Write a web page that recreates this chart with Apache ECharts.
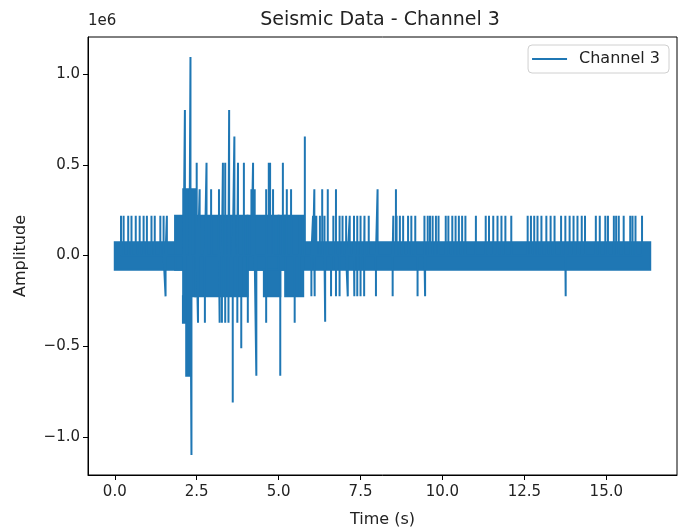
<!DOCTYPE html>
<html>
<head>
<meta charset="utf-8">
<script src="https://cdn.jsdelivr.net/npm/echarts@6/dist/echarts.min.js"></script>
<style>
  html, body { margin: 0; padding: 0; background: #fff; }
  #chart { width: 686px; height: 527px; }
</style>
</head>
<body>
<div id="chart"></div>
<script>
// tick labels
var xTicks = [0, 2.5, 5, 7.5, 10, 12.5, 15];
var yTicks = [-1000000, -500000, 0, 500000, 1000000];

// dense part of the trace, drawn as filled blocks: start, end, low, high
var bandStart = [0,      1.84,   2.09,    2.08,    2.18,    2.46,    4.05,   4.55,    5.00,    5.20];
var bandEnd   = [16.34,  2.09,   2.46,    2.18,    2.30,    4.05,    5.00,   5.05,    5.20,    5.75];
var bandLow   = [-78000, -78000, -225000, -370000, -663000, -225000, -78000, -225000, -78000,  -225000];
var bandHigh  = [73000,  219000, 365000,  -225000, -370000, 219000,  219000, -78000,  219000,  219000];

// small upward spikes (all reach the same level)
var combTimes = [0.19, 0.27, 0.41, 0.51, 0.64, 0.76, 0.88, 0.98, 1.12, 1.22, 1.39, 1.49, 1.59,
  5.64, 5.72, 6.05, 6.15, 6.26, 6.4, 6.67, 6.86, 6.95, 7.06, 7.17, 7.3, 7.4, 7.5, 7.62, 7.75,
  8.5, 8.6, 8.7, 8.8, 8.95, 9.05, 9.17, 9.45, 9.55, 9.62, 9.7, 9.8, 9.88,
  10.1, 10.18, 10.3, 10.4, 10.5, 10.6, 10.7, 11.02, 11.32, 11.42, 11.55, 11.68, 11.8, 11.92,
  12.1, 12.6, 12.7, 12.8, 12.9, 13.02, 13.17, 13.3, 13.42, 13.62, 13.75, 13.88, 14.0, 14.12,
  14.25, 14.35, 14.68, 14.8, 14.97, 15.05, 15.23, 15.3, 15.38, 15.53, 15.73, 15.8, 15.89, 16.09];
var combLevel = 219000;

// small downward spikes
var dipTimes = [1.55, 5.64, 6.0, 6.1, 6.6, 6.75, 6.86, 7.11, 7.31, 7.4, 7.5, 7.61, 7.97, 8.48, 9.24, 9.47, 13.76];
var dipLevel = -225000;

// large spikes of the main event
var burstTimes = [2.14, 2.31, 2.50, 2.59, 2.80, 2.94, 3.18, 3.30, 3.37, 3.49, 3.65, 3.76, 3.94,
  4.17, 4.22, 4.27, 4.62, 4.70, 4.74, 4.83, 5.13, 5.25, 5.38, 5.80, 6.09, 6.33, 6.50, 6.75, 8.02, 8.58,
  2.10, 2.15, 2.22, 2.28, 2.34, 2.54, 2.75, 3.20, 3.27, 3.37, 3.47, 3.60, 3.74, 3.86, 4.06,
  4.32, 4.62, 5.05, 5.49, 6.42];
var burstValues = [803000, 1095000, 511000, 365000, 511000, 365000, 365000, 511000, 511000, 803000, 657000, 511000, 511000,
  365000, 511000, 365000, 365000, 511000, 511000, 365000, 511000, 365000, 365000, 657000, 365000, 365000, 365000, 365000, 365000, 365000,
  -370000, -370000, -663000, -663000, -1100000, -370000, -370000, -370000, -370000, -370000, -370000, -810000, -370000, -511000, -370000,
  -663000, -370000, -663000, -370000, -365000];

var spikes = [];
combTimes.forEach(function (t) { spikes.push([t, combLevel]); });
dipTimes.forEach(function (t) { spikes.push([t, dipLevel]); });
for (var i = 0; i < burstTimes.length; i++) spikes.push([burstTimes[i], burstValues[i]]);
spikes.sort(function (a, b) { return a[0] - b[0]; });

// each spike goes out from the baseline and back
var trace = [];
spikes.forEach(function (s) {
  trace.push([s[0], 0], [s[0], s[1]], [s[0], 0]);
});

var bands = [];
for (var j = 0; j < bandStart.length; j++) bands.push([bandStart[j], bandEnd[j], bandLow[j], bandHigh[j]]);

var blue = '#1f77b4';
var font = 'DejaVu Sans';

var myChart = echarts.init(document.getElementById('chart'));
var option = {
  animation: false,
  backgroundColor: '#fff',
  title: {
    text: 'Seismic Data - Channel 3',
    left: 375,
    textAlign: 'center',
    top: 6,
    textStyle: { fontFamily: font, fontSize: 19, fontWeight: 'normal', color: '#222' }
  },
  graphic: [{
    type: 'text',
    left: 88,
    top: 14,
    style: { text: '1e6', font: '15px "DejaVu Sans"', fill: '#222' }
  }],
  legend: {
    data: ['Channel 3'],
    right: 17,
    top: 45,
    padding: [6, 9, 6, 4],
    icon: 'rect',
    itemWidth: 35,
    itemHeight: 2,
    itemGap: 10,
    itemStyle: { color: blue },
    borderColor: '#d0d0d0',
    borderWidth: 1,
    borderRadius: 4,
    backgroundColor: 'rgba(255,255,255,0.8)',
    textStyle: { fontFamily: font, fontSize: 16, color: '#222', padding: [5, 0, 5, 7] }
  },
  grid: {
    left: 88, top: 37, right: 9, bottom: 52,
    outerBoundsMode: 'none',
    containLabel: false,
    show: true, borderColor: '#000', borderWidth: 1
  },
  xAxis: {
    type: 'value',
    min: -0.817,
    max: 17.157,
    name: 'Time (s)',
    nameLocation: 'middle',
    nameGap: 37,
    nameTextStyle: { fontFamily: font, fontSize: 16, color: '#222' },
    axisLine: { show: true, onZero: false, lineStyle: { color: '#000', width: 1 } },
    axisTick: { show: true, inside: false, length: 5, customValues: xTicks, lineStyle: { color: '#000' } },
    axisLabel: {
      customValues: xTicks, margin: 10,
      fontFamily: font, fontSize: 15, color: '#222',
      formatter: function (v) { return v.toFixed(1); }
    },
    splitLine: { show: false }
  },
  yAxis: {
    type: 'value',
    min: -1210000,
    max: 1205000,
    name: 'Amplitude',
    nameLocation: 'middle',
    nameGap: 59,
    nameRotate: 90,
    nameTextStyle: { fontFamily: font, fontSize: 16, color: '#222' },
    axisLine: { show: true, onZero: false, lineStyle: { color: '#000', width: 1 } },
    axisTick: { show: true, inside: false, length: 5, customValues: yTicks, lineStyle: { color: '#000' } },
    axisLabel: {
      customValues: yTicks, margin: 8,
      fontFamily: font, fontSize: 15, color: '#222',
      formatter: function (v) {
        var s = Math.abs(v / 1e6).toFixed(1);
        return v < 0 ? '\u2212' + s : s;
      }
    },
    splitLine: { show: false }
  },
  series: [
    {
      name: 'band',
      type: 'custom',
      encode: { x: [0, 1], y: [2, 3] },
      renderItem: function (params, api) {
        var p0 = api.coord([api.value(0), api.value(3)]);
        var p1 = api.coord([api.value(1), api.value(2)]);
        return {
          type: 'rect',
          shape: { x: p0[0], y: p0[1], width: p1[0] - p0[0], height: p1[1] - p0[1] },
          style: { fill: blue, stroke: blue, lineWidth: 2 }
        };
      },
      data: bands,
      z: 2
    },
    {
      name: 'Channel 3',
      type: 'line',
      data: trace,
      symbol: 'none',
      color: blue,
      lineStyle: { color: blue, width: 2 },
      z: 3
    }
  ]
};
myChart.setOption(option);
</script>
</body>
</html>
